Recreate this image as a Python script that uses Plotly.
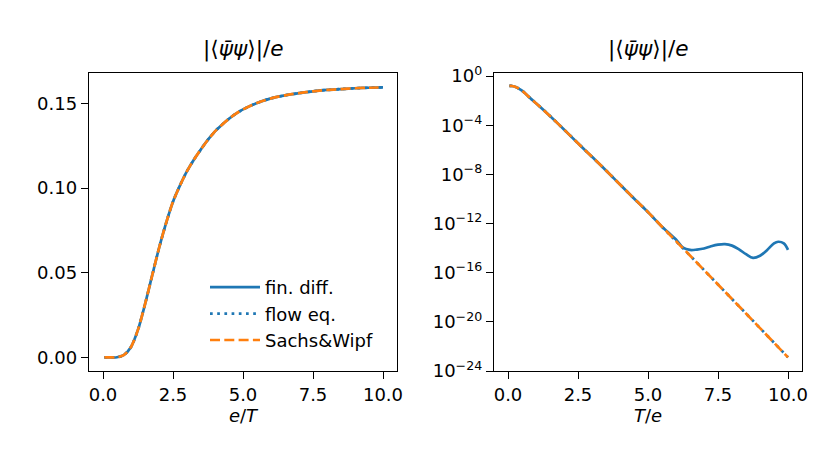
import plotly.graph_objects as go

# ---------------- data ----------------
# left panel: condensate vs e/T
beta = [0.05, 0.25, 0.5, 0.75, 1.0, 1.25, 1.5, 1.75, 2.0, 2.25, 2.5, 2.75, 3.0, 3.25,
        3.5, 3.75, 4.0, 4.25, 4.5, 4.75, 5.0, 5.5, 6.0, 6.5, 7.0, 7.5, 8.0, 8.5, 9.0,
        9.5, 10.0]
cond_left = [0.0, 0.0, 0.0001, 0.0015, 0.0062, 0.0164, 0.0314, 0.048, 0.0645, 0.0792,
             0.092, 0.1016, 0.110, 0.1169, 0.123, 0.1286, 0.1335, 0.1375, 0.141, 0.144,
             0.1465, 0.1503, 0.153, 0.1548, 0.1561, 0.1572, 0.158, 0.1585, 0.159,
             0.1593, 0.1595]

# right panel: condensate vs T/e (log scale)
temp = [0.05, 0.1, 0.15, 0.2, 0.25, 0.33, 0.4, 0.5, 0.6, 0.75, 0.9, 1.0, 1.25, 1.5,
        2.0, 2.5, 3.0, 3.5, 4.0, 4.5, 5.0, 5.5, 6.0, 6.5, 7.0, 7.5, 8.0, 8.5, 9.0, 9.5, 10.0]
cond_sw = [1.60e-1, 1.595e-1, 1.55e-1, 1.465e-1, 1.335e-1, 1.10e-1, 9.2e-2, 6.45e-2,
           4.2e-2, 2.0e-2, 9.7e-3, 6.2e-3, 1.9e-3, 5.6e-4, 4.5e-5, 3.4e-6, 2.7e-7,
           2.1e-8, 1.5e-9, 1.1e-10, 8.5e-12, 5.5e-13, 3.7e-14, 2.5e-15, 1.65e-16,
           1.1e-17, 7.2e-19, 4.8e-20, 3.1e-21, 2.0e-22, 1.3e-23]
cond_flow = list(cond_sw)

temp_fd = [0.05, 0.1, 0.15, 0.2, 0.25, 0.33, 0.4, 0.5, 0.6, 0.75, 0.9, 1.0, 1.25, 1.5,
           2.0, 2.5, 3.0, 3.5, 4.0, 4.5, 5.0, 5.5, 5.75, 6.0, 6.25, 6.5, 6.75, 7.0,
           7.25, 7.5, 7.75, 8.0, 8.25, 8.5, 8.75, 9.0, 9.25, 9.5, 9.65, 9.85, 10.0]
cond_fd = [1.60e-1, 1.595e-1, 1.55e-1, 1.465e-1, 1.335e-1, 1.10e-1, 9.2e-2, 6.45e-2,
           4.2e-2, 2.0e-2, 9.7e-3, 6.2e-3, 1.9e-3, 5.6e-4, 4.5e-5, 3.4e-6, 2.7e-7,
           2.1e-8, 1.5e-9, 1.1e-10, 8.5e-12, 5.5e-13, 1.7e-13, 5.0e-14, 1.1e-14,
           7.1e-15, 7.6e-15, 9.3e-15, 1.4e-14, 1.9e-14, 2.1e-14, 1.6e-14, 7.9e-15,
           3.2e-15, 1.6e-15, 2.4e-15, 6.8e-15, 2.4e-14, 3.3e-14, 2.4e-14, 7.1e-15]

x_ticks = [0, 2.5, 5, 7.5, 10]
x_ticktext = ["0.0", "2.5", "5.0", "7.5", "10.0"]
yl_ticks = [0, 0.05, 0.10, 0.15]
yl_ticktext = ["0.00", "0.05", "0.10", "0.15"]
yr_exps = [0, -4, -8, -12, -16, -20, -24]

names = ["fin. diff.", "flow eq.", "Sachs&Wipf"]

# ---------------- styling ----------------
BLUE = "#1f77b4"
ORANGE = "#ff7f0e"
FONT = "DejaVu Sans"
LW = 2.7
FS = 18
DOT = "2.7px,4.5px"
DASH = "10px,4.3px"

fig = go.Figure()

# left panel
fig.add_trace(go.Scatter(x=beta, y=cond_left, mode="lines", name=names[0],
                         line=dict(color=BLUE, width=LW, shape="spline", smoothing=0.8),
                         xaxis="x", yaxis="y"))
fig.add_trace(go.Scatter(x=beta, y=cond_left, mode="lines", name=names[1],
                         line=dict(color=BLUE, width=LW, dash=DOT, shape="spline", smoothing=0.8),
                         xaxis="x", yaxis="y"))
fig.add_trace(go.Scatter(x=beta, y=cond_left, mode="lines", name=names[2],
                         line=dict(color=ORANGE, width=LW, dash=DASH, shape="spline", smoothing=0.8),
                         xaxis="x", yaxis="y"))

# right panel
fig.add_trace(go.Scatter(x=temp_fd, y=cond_fd, mode="lines", name=names[0], showlegend=False,
                         line=dict(color=BLUE, width=LW, shape="spline"),
                         xaxis="x2", yaxis="y2"))
fig.add_trace(go.Scatter(x=temp, y=cond_flow, mode="lines", name=names[1], showlegend=False,
                         line=dict(color=BLUE, width=LW, dash=DOT, shape="spline"),
                         xaxis="x2", yaxis="y2"))
fig.add_trace(go.Scatter(x=temp, y=cond_sw, mode="lines", name=names[2], showlegend=False,
                         line=dict(color=ORANGE, width=LW, dash=DASH, shape="spline"),
                         xaxis="x2", yaxis="y2"))

W, H = 830, 457
dom_x1 = [89 / W, 397 / W]
dom_x2 = [494 / W, 802 / W]
dom_y = [(H - 371) / H, (H - 73) / H]

axis_common = dict(showline=True, mirror=True, linecolor="black", linewidth=1.4,
                   ticks="outside", ticklen=7, tickwidth=1.4, tickcolor="black",
                   showgrid=False, zeroline=False, automargin=False,
                   tickfont=dict(family=FONT, size=FS, color="black"))

fig.update_layout(
    width=W, height=H, autosize=False,
    margin=dict(l=0, r=0, t=0, b=0, pad=0, autoexpand=False),
    paper_bgcolor="white", plot_bgcolor="white",
    font=dict(family=FONT, size=FS, color="black"),
    xaxis=dict(domain=dom_x1, range=[-0.5, 10.5], tickvals=x_ticks, ticktext=x_ticktext,
               anchor="y",
               title=dict(text="<i>e</i>/<i>T</i>", font=dict(family=FONT, size=FS), standoff=4),
               **axis_common),
    yaxis=dict(domain=dom_y, range=[-0.008, 0.168], tickvals=yl_ticks, ticktext=yl_ticktext,
               anchor="x", **axis_common),
    xaxis2=dict(domain=dom_x2, range=[-0.5, 10.5], tickvals=x_ticks, ticktext=x_ticktext,
                anchor="y2",
                title=dict(text="<i>T</i>/<i>e</i>", font=dict(family=FONT, size=FS), standoff=4),
                **axis_common),
    yaxis2=dict(domain=dom_y, type="log", range=[-24.0, 0.25],
                tickvals=[10.0 ** e for e in yr_exps],
                ticktext=["10<sup>%s</sup>" % (str(e).replace("-", "\u2212")) for e in yr_exps],
                anchor="x2", **axis_common),
    showlegend=True,
    legend=dict(x=205 / W, y=(H - 269) / H, xanchor="left", yanchor="top",
                bgcolor="rgba(255,255,255,0)", borderwidth=0, itemwidth=50,
                font=dict(family=FONT, size=FS, color="black"),
                tracegroupgap=0),
)

title_text = "|\u27e8<i>\u03c8\u0304\u03c8</i>\u27e9|/<i>e</i>"
for dom in (dom_x1, dom_x2):
    fig.add_annotation(x=(dom[0] + dom[1]) / 2, y=dom_y[1], xref="paper", yref="paper",
                       xanchor="center", yanchor="bottom", yshift=9, showarrow=False,
                       text=title_text, font=dict(family=FONT, size=21.6, color="black"))

fig.write_html("out.html", config={"displayModeBar": False},
               post_script="document.body.style.margin='0';")
